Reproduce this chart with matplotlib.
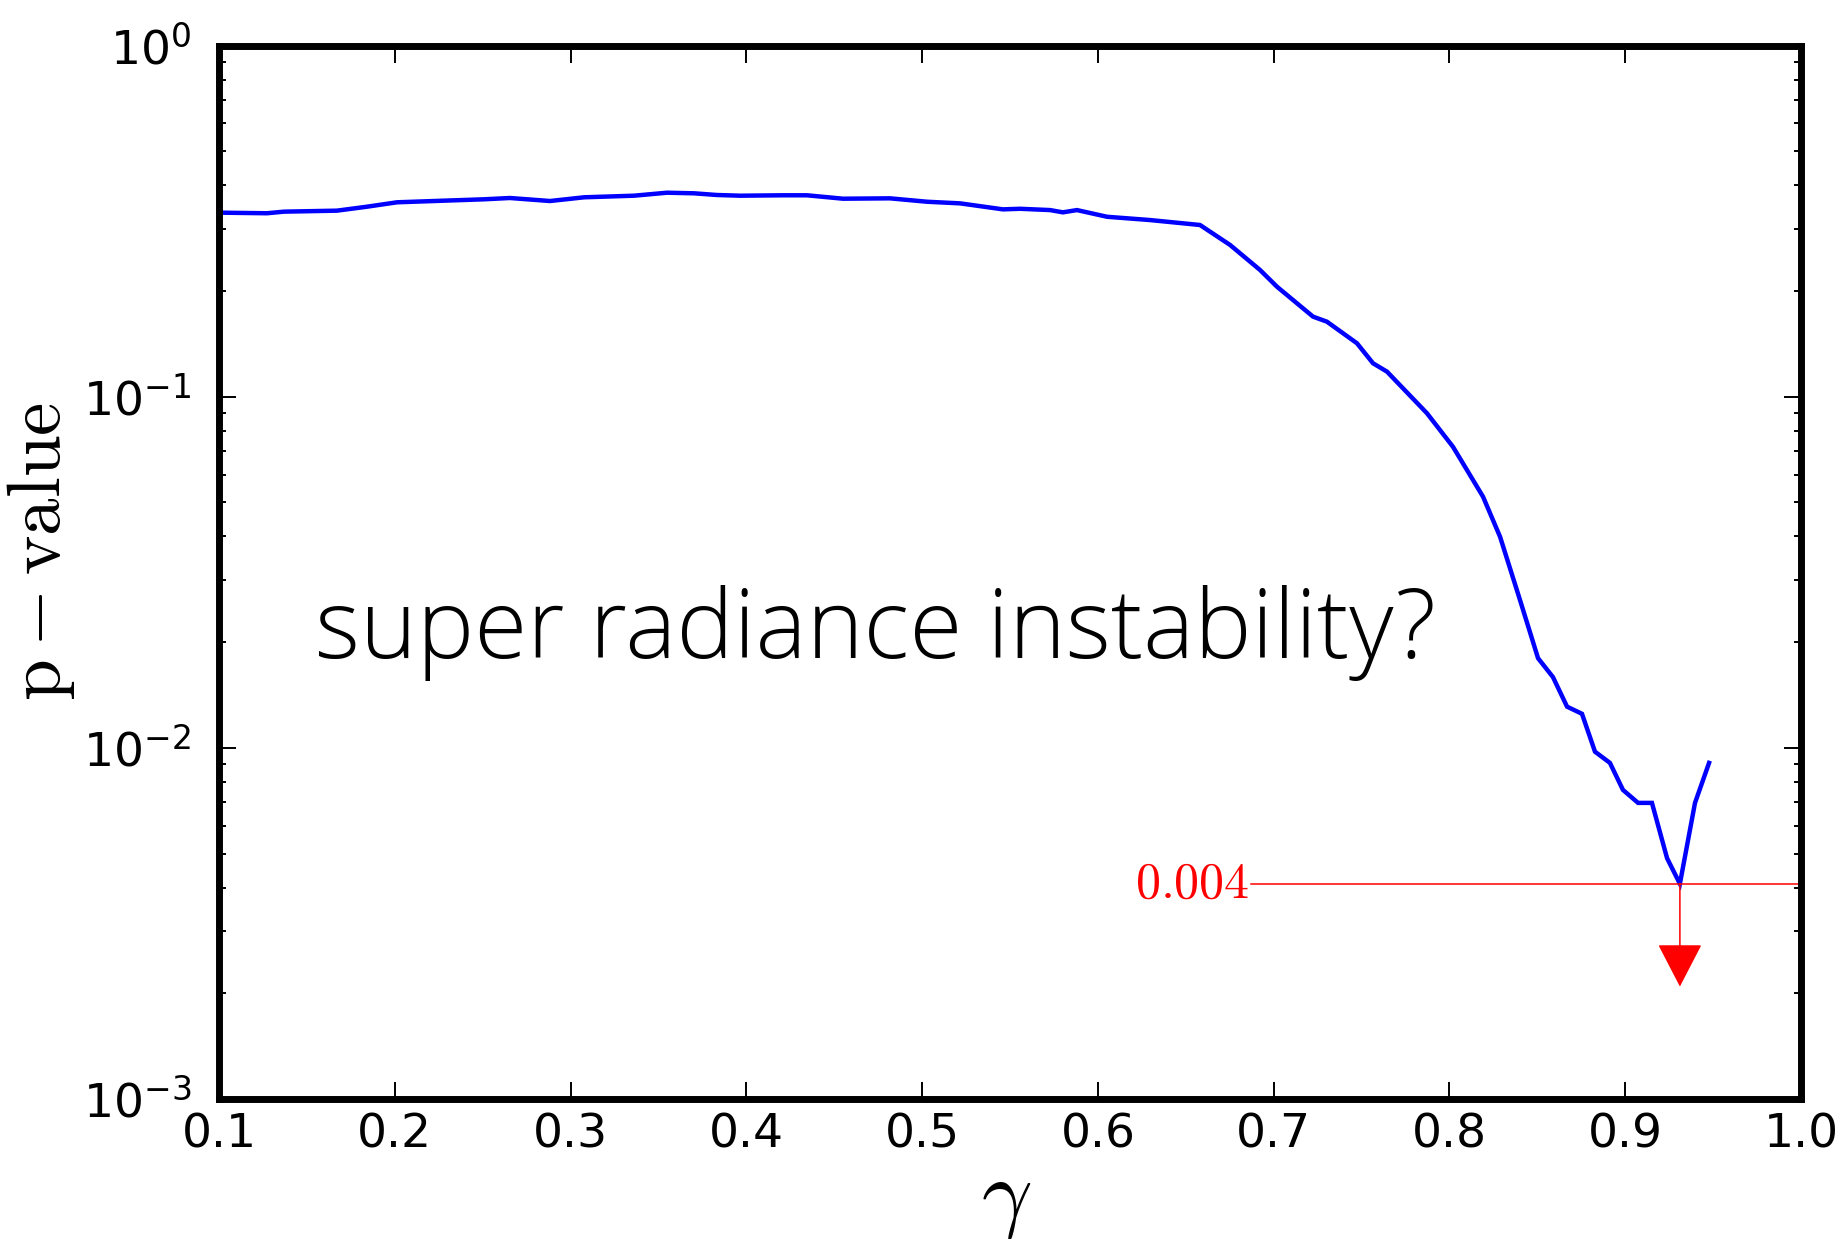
import numpy as np
import matplotlib
matplotlib.use("Agg")
import matplotlib.pyplot as plt
from matplotlib.ticker import FixedLocator, FormatStrFormatter, LogLocator, NullFormatter

# p-value as a function of gamma
gamma = [0.100, 0.1273, 0.137, 0.1671, 0.1842, 0.2013, 0.2223, 0.2508, 0.2655, 0.2883,
         0.3077, 0.3361, 0.3549, 0.3702, 0.3833, 0.3964, 0.4209, 0.4345, 0.455, 0.4817,
         0.5028, 0.5216, 0.546, 0.5557, 0.5728, 0.5801, 0.5881, 0.6052, 0.6296, 0.6581,
         0.6752, 0.6922, 0.7019, 0.7224, 0.7303, 0.7474, 0.7565, 0.7645, 0.7872, 0.802,
         0.8191, 0.8288, 0.8401, 0.8504, 0.8589, 0.8669, 0.8754, 0.8828, 0.8913, 0.8987,
         0.9073, 0.9152, 0.9238, 0.9311, 0.9397, 0.9477]
p_value = [0.3342, 0.3329, 0.3364, 0.3386, 0.3475, 0.3577, 0.3607, 0.3648, 0.3679, 0.3607,
           0.3696, 0.3735, 0.3809, 0.3794, 0.3752, 0.3735, 0.3745, 0.3745, 0.3662, 0.3671,
           0.3590, 0.3552, 0.3415, 0.3428, 0.3399, 0.3349, 0.3399, 0.3253, 0.3184, 0.3082,
           0.2704, 0.2296, 0.2056, 0.1690, 0.1635, 0.1419, 0.1245, 0.1178, 0.0897, 0.0720,
           0.0519, 0.0399, 0.0264, 0.0180, 0.0159, 0.0131, 0.0125, 0.00975, 0.00906, 0.00759,
           0.00697, 0.00697, 0.00485, 0.0041, 0.00697, 0.00906]

x_ticks = [0.1, 0.2, 0.3, 0.4, 0.5, 0.6, 0.7, 0.8, 0.9, 1.0]
y_limits = (1e-3, 1e0)
note_text = "super radiance instability?"

plt.rcParams["font.family"] = ["DejaVu Sans"]
plt.rcParams["mathtext.fontset"] = "dejavusans"

fig = plt.figure(figsize=(18.42, 12.39), dpi=100)
ax = fig.add_axes([219 / 1842, 1 - 1099 / 1239, (1801 - 219) / 1842, (1099 - 45.5) / 1239])

ax.plot(gamma, p_value, color="#0000ff", lw=3.2, solid_joinstyle="miter")
ax.set_yscale("log")
ax.set_xlim(0.1, 1.0)
ax.set_ylim(*y_limits)

ax.xaxis.set_major_locator(FixedLocator(x_ticks))
ax.xaxis.set_major_formatter(FormatStrFormatter("%.1f"))
ax.yaxis.set_major_locator(LogLocator(base=10, numticks=10))
ax.yaxis.set_minor_locator(LogLocator(base=10, subs=np.arange(2, 10), numticks=20))
ax.yaxis.set_minor_formatter(NullFormatter())

for s in ax.spines.values():
    s.set_linewidth(5)
ax.tick_params(which="both", direction="in", top=True, right=True, labelsize=34,
               width=1.4, color="black")
ax.tick_params(which="major", length=12)
ax.tick_params(which="minor", length=5)
ax.tick_params(axis="y", which="major", pad=20)
ax.tick_params(axis="x", which="major", pad=10)

ax.set_ylabel(r"$\mathrm{p-value}$", fontsize=54, math_fontfamily="cm")
ax.yaxis.set_label_coords(-0.09, 0.52)
ax.set_xlabel(r"$\gamma$", fontsize=64, math_fontfamily="cm")
ax.xaxis.set_label_coords(0.4975, -0.053)

# minimum marker: horizontal level, drop line and arrow head
i_min = int(np.argmin(p_value))
g_min, p_min = gamma[i_min], p_value[i_min]
line_start = 0.687
ax.plot([line_start, 1.0], [p_min, p_min], color="red", lw=1.1, clip_on=False)
ax.text(line_start - 0.001, p_min, f"${p_min:.3f}$", color="red", fontsize=36,
        ha="right", va="center", math_fontfamily="cm")
ax.annotate("", xy=(g_min, 0.00209), xytext=(g_min, p_min),
            arrowprops=dict(arrowstyle="-|>,head_length=28,head_width=14.5",
                            mutation_scale=1, color="red", lw=1.1,
                            shrinkA=0, shrinkB=0))

# annotation text, sized to span the intended width
note = ax.text(0.0607, 0.4186, note_text, transform=ax.transAxes, fontsize=60,
               fontfamily="Open Sans", fontweight="light", ha="left", va="baseline",
               color="black")
renderer = fig.canvas.get_renderer()
w = note.get_window_extent(renderer).width
note.set_fontsize(60 * 1121 / w)

fig.savefig("out.png", dpi=100)
